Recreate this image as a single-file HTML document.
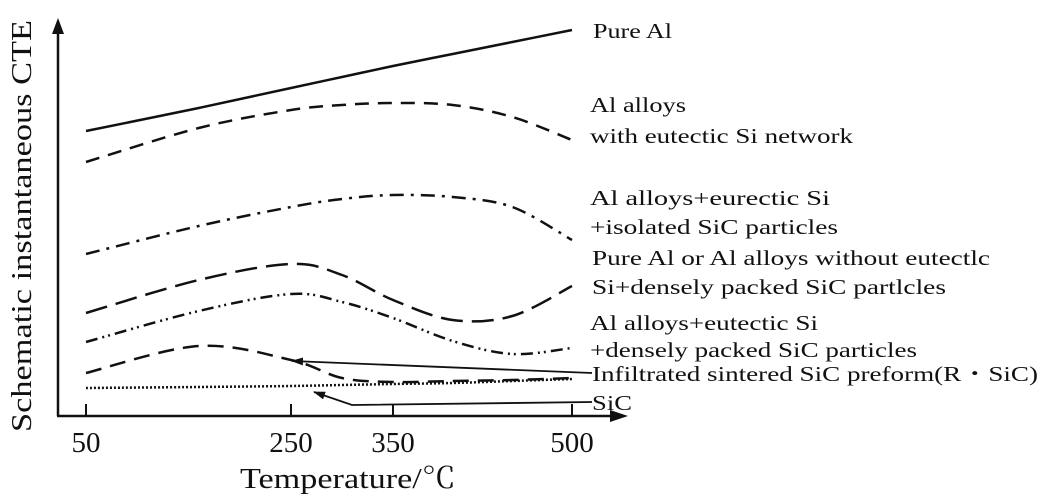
<!DOCTYPE html>
<html><head><meta charset="utf-8"><style>
html,body{margin:0;padding:0;background:#fff;width:1039px;height:497px;overflow:hidden}
svg text{font-family:"Liberation Serif","Noto Serif CJK SC",serif;fill:#111}
</style></head><body>
<svg id="chart" width="1039" height="497" viewBox="0 0 1039 497" xmlns="http://www.w3.org/2000/svg">
<defs><marker id="ah" markerWidth="12" markerHeight="8" refX="11" refY="4" orient="auto" markerUnits="userSpaceOnUse"><path d="M0,0 L12,4 L0,8 Z" fill="#111"/></marker></defs>
<g id="axes">
<line x1="58" y1="416" x2="58" y2="32" stroke="#111" stroke-width="2.5"/>
<path d="M52,34 L58,18 L64,34 Z" fill="#111"/>
<line x1="57" y1="416" x2="614" y2="416" stroke="#111" stroke-width="2.5"/>
<path d="M610,410 L628,416 L610,422 Z" fill="#111"/>
<text transform="translate(31,226) rotate(-90)" text-anchor="middle" font-size="29" textLength="412" lengthAdjust="spacingAndGlyphs">Schematic instantaneous CTE</text>
<text x="240" y="488" font-size="29" textLength="216" lengthAdjust="spacingAndGlyphs">Temperature/℃</text>
</g>
<g id="ticks"></g>
<g id="series"></g>
<g id="labels">
<text x="593" y="38" font-size="21" textLength="79" lengthAdjust="spacingAndGlyphs">Pure Al</text>
<text x="590" y="112" font-size="21" textLength="96" lengthAdjust="spacingAndGlyphs">Al alloys</text>
<text x="590" y="143" font-size="21" textLength="263" lengthAdjust="spacingAndGlyphs">with eutectic Si network</text>
<text x="590" y="205" font-size="21" textLength="240" lengthAdjust="spacingAndGlyphs">Al alloys+eurectic Si</text>
<text x="590" y="234" font-size="21" textLength="248" lengthAdjust="spacingAndGlyphs">+isolated SiC particles</text>
<text x="592" y="265" font-size="21" textLength="398" lengthAdjust="spacingAndGlyphs">Pure Al or Al alloys without eutectlc</text>
<text x="592" y="294" font-size="21" textLength="354" lengthAdjust="spacingAndGlyphs">Si+densely packed SiC partlcles</text>
<text x="590" y="330" font-size="21" textLength="228" lengthAdjust="spacingAndGlyphs">Al alloys+eutectic Si</text>
<text x="590" y="357" font-size="21" textLength="327" lengthAdjust="spacingAndGlyphs">+densely packed SiC particles</text>
<text x="592" y="381" font-size="21" textLength="446" lengthAdjust="spacingAndGlyphs">Infiltrated sintered SiC preform(R・SiC)</text>
<text x="592" y="410" font-size="21" textLength="40" lengthAdjust="spacingAndGlyphs">SiC</text>
</g>
<g id="arrows">
<polyline points="592,373 292,361" fill="none" stroke="#111" stroke-width="1.8" marker-end="url(#ah)"/>
<polyline points="592,402 352,405 314,392" fill="none" stroke="#111" stroke-width="1.8" marker-end="url(#ah)"/>
</g>
</svg>
<script>
// x tick values (schematic, non-linear axis) and their pixel anchors
const tickLabels = ["50","250","350","500"];
const tickValues = [50, 250, 350, 500];
const temps = [50, 160, 250, 300, 350, 400, 450, 500];
const pureAl      = [285, 308, 328, 339, 350, 362, 374, 386];
const alAlloys    = [254, 288, 306, 311, 313, 311, 299, 276];
const isolatedSiC = [162, 190, 209, 217, 221, 219, 209, 176];
const denseNoEut  = [103, 136, 152, 141, 116,  96, 100, 130];
const denseEut    = [ 74, 105, 122, 114,  98,  75,  62,  68];
const rsic        = [ 43,  70,  56,  38,  34,  35,  36,  38];
const sic         = [ 28,  29,  30,  31,  32,  33,  35,  37];

const tickPx = [86, 291, 393, 572];
function xScale(t){
  for(let i=0;i<tickValues.length-1;i++){
    if(t<=tickValues[i+1]||i===tickValues.length-2){
      const f=(t-tickValues[i])/(tickValues[i+1]-tickValues[i]);
      return tickPx[i]+f*(tickPx[i+1]-tickPx[i]);
    }
  }
}
function yScale(v){ return 416 - v; }
const NS="http://www.w3.org/2000/svg";
const tg=document.getElementById('ticks');
tickValues.forEach((v,i)=>{
  const x=xScale(v);
  const l=document.createElementNS(NS,'line');
  l.setAttribute('x1',x);l.setAttribute('x2',x);l.setAttribute('y1',416);l.setAttribute('y2',404);
  l.setAttribute('stroke','#111');l.setAttribute('stroke-width','2');
  
  
  tg.appendChild(l);
  const t=document.createElementNS(NS,'text');
  t.setAttribute('x',x);t.setAttribute('y',452);t.setAttribute('text-anchor','middle');t.setAttribute('font-size','29');
  t.textContent=tickLabels[i];
  
  
  tg.appendChild(t);
});
function smoothPath(xs,ys){
  const p=xs.map((t,i)=>[xScale(t),yScale(ys[i])]);
  let d=`M${p[0][0]},${p[0][1]}`;
  for(let i=0;i<p.length-1;i++){
    const p0=p[i-1]||p[i],p1=p[i],p2=p[i+1],p3=p[i+2]||p2;
    const c1=[p1[0]+(p2[0]-p0[0])/6,p1[1]+(p2[1]-p0[1])/6];
    const c2=[p2[0]-(p3[0]-p1[0])/6,p2[1]-(p3[1]-p1[1])/6];
    d+=` C${c1[0]},${c1[1]} ${c2[0]},${c2[1]} ${p2[0]},${p2[1]}`;
  }
  return d;
}
const sg=document.getElementById('series');
function addSeries(vals,name,dash,w,lastT){
  const xs=temps.filter(t=>t<=lastT), ys=vals.slice(0,xs.length);
  const path=document.createElementNS(NS,'path');
  path.setAttribute('d',smoothPath(xs,ys));
  path.setAttribute('fill','none');path.setAttribute('stroke','#111');path.setAttribute('stroke-width',w);
  if(dash)path.setAttribute('stroke-dasharray',dash);
  
  
  sg.appendChild(path);
}
addSeries(pureAl,'line-pure-al',null,2.5,500);
addSeries(alAlloys,'line-al-alloys','14 9',2.5,500);
addSeries(isolatedSiC,'line-isolated-sic','14 7 3 7',2.5,500);
addSeries(denseNoEut,'line-dense-no-eutectic','22 9',2.5,500);
addSeries(denseEut,'line-dense-eutectic','12 5 2 4 2 5',2.5,500);
addSeries(rsic,'line-rsic','16 9',2.5,500);
addSeries(sic,'line-sic','2 2',2.5,500);
</script>
</body></html>
